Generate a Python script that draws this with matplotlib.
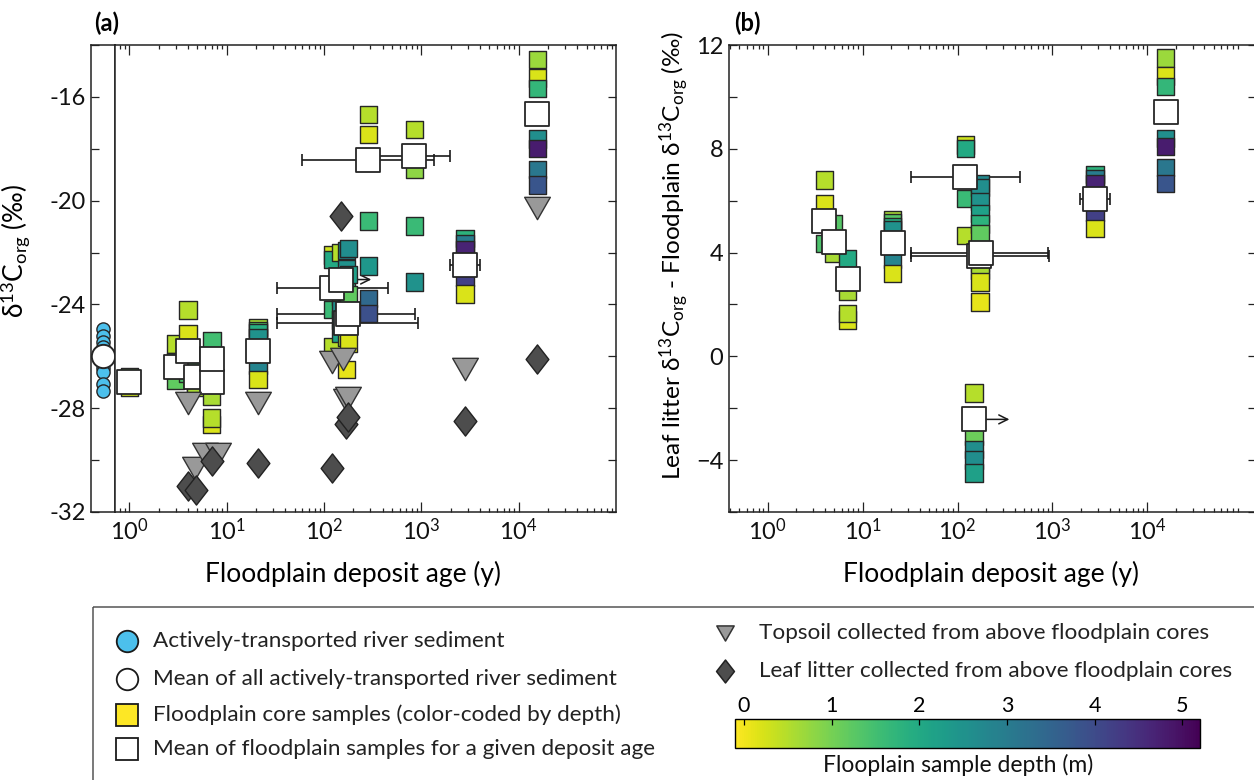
import matplotlib
matplotlib.use("Agg")
import matplotlib.pyplot as plt
import numpy as np
from matplotlib.path import Path
from matplotlib.colors import Normalize
from matplotlib.patches import Rectangle
import matplotlib.ticker as mticker
import matplotlib.cm as cm

plt.rcParams['font.family'] = ['Lato', 'DejaVu Sans']
plt.rcParams['mathtext.fontset'] = 'custom'
plt.rcParams['mathtext.rm'] = 'Lato'
plt.rcParams['mathtext.it'] = 'Lato:italic'
plt.rcParams['mathtext.bf'] = 'Lato:bold'

# ---------------- data: panel (a) ----------------
river_d13c = [-24.95, -25.2, -25.45, -25.65, -25.9, -26.2, -26.45, -26.6, -27.05, -27.35]
river_mean = -26.0

core_a_age = [1.0, 1.0,
              3.0, 3.0, 3.0,
              4.0, 4.0, 4.0,
              4.8, 4.8, 4.8,
              7.0, 7.0, 7.0, 7.0,
              7.1, 7.1,
              21, 21, 21, 21, 21, 21,
              122, 122, 122, 122,
              148, 148, 148, 148, 148,
              170, 170, 170, 170, 170,
              178, 178, 178, 178, 178,
              285, 285, 285, 285, 285, 285,
              850, 850, 850, 850,
              2800, 2800, 2800, 2800, 2800,
              15500, 15500, 15500, 15500, 15500, 15500, 15500]
core_a_d13c = [-26.8, -27.2,
               -25.52, -26.2, -26.94,
               -24.21, -25.14, -26.65,
               -26.06, -27.1, -27.19,
               -26.26, -27.54, -28.63, -28.38,
               -25.39, -26.5,
               -24.9, -25.0, -25.1, -25.27, -26.36, -26.9,
               -22.1, -22.27, -24.2, -25.64,
               -22.0, -23.7, -24.2, -24.6, -25.1,
               -21.93, -22.64, -23.5, -25.28, -26.5,
               -21.85, -22.85, -23.61, -24.75, -25.48,
               -16.67, -17.44, -20.79, -22.52, -23.78, -24.36,
               -17.25, -18.8, -20.98, -23.14,
               -21.47, -21.66, -21.88, -22.95, -23.6,
               -14.56, -15.27, -15.68, -17.63, -18.0, -18.8, -19.4]
core_a_depth = [1.1, 0.3,
                0.5, 1.9, 1.2,
                0.5, 0.2, 1.4,
                1.3, 1.9, 0.6,
                2.0, 0.6, 0.2, 0.5,
                1.5, 1.9,
                0.6, 1.3, 1.9, 2.5, 2.8, 0.2,
                0.3, 2.0, 1.6, 0.5,
                0.5, 1.1, 2.6, 2.6, 2.2,
                2.7, 2.5, 1.8, 0.6, 0.1,
                2.6, 2.2, 1.2, 0.5, 0.2,
                0.5, 0.2, 1.6, 2.4, 3.4, 3.9,
                0.5, 0.8, 1.6, 2.5,
                1.8, 3.0, 4.7, 4.2, 0.2,
                0.7, 0.2, 1.7, 2.6, 4.8, 3.1, 3.8]

mean_a_age = [1.0, 3.0, 4.0, 4.8, 7.0, 7.1, 21, 122, 148, 170, 178, 285, 850, 2800, 15500]
mean_a_d13c = [-26.98, -26.4, -25.78, -26.8, -27.0, -26.1, -25.78, -23.37, -23.04,
               -24.73, -24.35, -18.42, -18.28, -22.47, -16.67]
mean_a_age_lo = [np.nan, np.nan, np.nan, np.nan, np.nan, np.nan, np.nan, 33, np.nan,
                 33, 33, 60, 300, 1950, np.nan]
mean_a_age_hi = [np.nan, np.nan, np.nan, np.nan, np.nan, np.nan, np.nan, 453, np.nan,
                 920, 870, 1334, 1950, 3980, np.nan]
arrow_a_age, arrow_a_d13c, arrow_a_to = 148, -23.04, 306

topsoil_a_age = [4.0, 4.7, 6.0, 8.1, 21, 122, 157, 170, 178, 2800, 15500]
topsoil_a_d13c = [-27.8, -30.3, -29.75, -29.75, -27.8, -26.2, -26.1, -27.7, -27.6, -26.5, -20.27]

litter_a_age = [4.0, 4.8, 7.0, 21, 122, 148, 170, 178, 2800, 15500]
litter_a_d13c = [-30.99, -31.16, -30.03, -30.12, -30.29, -20.6, -28.6, -28.35, -28.5, -26.1]

# ---------------- data: panel (b) ----------------
core_b_age = [3.94, 3.94, 3.94,
              4.94, 4.94,
              6.93, 6.93, 6.93, 6.93,
              20.7, 20.7, 20.7, 20.7, 20.7, 20.7,
              121, 121, 121, 121,
              149, 149, 149, 149, 149,
              172, 172, 172, 172, 172, 172, 172, 172, 172, 172,
              2820, 2820, 2820, 2820, 2820,
              15600, 15600, 15600, 15600, 15600, 15600, 15600]
core_b_diff = [6.8, 5.87, 4.35,
               5.1, 3.97,
               3.77, 2.49, 1.4, 1.65,
               5.25, 5.15, 5.0, 4.9, 3.74, 3.2,
               8.15, 8.02, 6.09, 4.65,
               -1.41, -3.1, -3.6, -4.0, -4.5,
               6.67, 6.5, 5.96, 5.5, 5.1, 4.74, 3.6, 3.32, 2.87, 2.1,
               7.0, 6.85, 6.64, 5.57, 4.93,
               11.5, 10.8, 10.4, 8.4, 8.08, 7.27, 6.67]
core_b_depth = [0.5, 0.2, 1.4,
                1.3, 0.6,
                2.0, 0.6, 0.2, 0.5,
                0.6, 1.3, 1.9, 2.5, 2.8, 0.2,
                0.3, 2.0, 1.6, 0.5,
                0.5, 1.1, 2.6, 2.6, 2.2,
                2.7, 2.6, 2.5, 2.2, 1.8, 1.2, 0.5, 0.6, 0.2, 0.1,
                1.8, 3.0, 4.7, 4.2, 0.2,
                0.7, 0.2, 1.7, 2.6, 4.8, 3.1, 3.8]

mean_b_age = [3.94, 4.94, 6.93, 20.7, 121, 149, 170, 175, 2820, 15600]
mean_b_diff = [5.23, 4.39, 3.0, 4.35, 6.92, -2.43, 3.86, 3.99, 6.05, 9.4]
mean_b_age_lo = [np.nan, np.nan, np.nan, np.nan, 32.6, np.nan, 32.4, 32.4, 1960, np.nan]
mean_b_age_hi = [np.nan, np.nan, np.nan, np.nan, 456, np.nan, 930, 895, 4055, np.nan]
arrow_b_age, arrow_b_diff, arrow_b_to = 149, -2.43, 352

depth_ticks = [0, 1, 2, 3, 4, 5]

# ---------------- styling ----------------
W, H = 1254, 780
fig = plt.figure(figsize=(W / 100, H / 100), dpi=100)

def px_axes(x0, y0, x1, y1, **kw):
    return fig.add_axes([x0 / W, 1 - y1 / H, (x1 - x0) / W, (y1 - y0) / H], **kw)

cmap = plt.get_cmap('viridis_r')
norm = Normalize(vmin=-0.1, vmax=5.2)
EDGE = '#262626'
TICK_FS = 17
LABEL_FS = 19

tri_marker = Path([(-1, 0.87), (1, 0.87), (0, -0.87), (-1, 0.87)],
                  [Path.MOVETO, Path.LINETO, Path.LINETO, Path.CLOSEPOLY])
dia_marker = Path([(0, 1), (0.78, 0), (0, -1), (-0.78, 0), (0, 1)],
                  [Path.MOVETO, Path.LINETO, Path.LINETO, Path.LINETO, Path.CLOSEPOLY])

SQ = 12.5     # sample square size (pt)
MSQ = 16.8    # mean square size (pt)
TRI = 18.5
DIA = 21.0


def style_axis(ax):
    for s in ax.spines.values():
        s.set_linewidth(1.1)
        s.set_color('#222222')
    ax.tick_params(which='both', direction='in', color='#222222', width=0.9,
                   labelsize=TICK_FS, pad=4, labelcolor='#111111')
    ax.tick_params(which='major', length=6)
    ax.tick_params(which='minor', length=3)


def draw_panel(ax, c_age, c_val, c_dep, m_age, m_val, m_lo, m_hi, arrow):
    m_age_a = np.array(m_age, float)
    m_val_a = np.array(m_val, float)
    lo = np.array(m_lo, float)
    hi = np.array(m_hi, float)
    ok = ~np.isnan(lo)
    ax.errorbar(m_age_a[ok], m_val_a[ok],
                xerr=[m_age_a[ok] - lo[ok], hi[ok] - m_age_a[ok]],
                fmt='none', ecolor='#1a1a1a', elinewidth=1.2, capsize=4.5,
                capthick=1.2, zorder=2)
    a_age, a_val, a_to = arrow
    ax.annotate('', xy=(a_to, a_val), xytext=(a_age, a_val),
                arrowprops=dict(arrowstyle='->', color='#1a1a1a', lw=1.1,
                                mutation_scale=16, shrinkA=0, shrinkB=0),
                zorder=2)
    ax.scatter(c_age, c_val, c=c_dep, cmap=cmap, norm=norm, marker='s',
               s=SQ ** 2, edgecolors=EDGE, linewidths=1.0, zorder=3)
    ax.scatter(m_age, m_val, marker='s', s=MSQ ** 2, facecolors='white',
               edgecolors=EDGE, linewidths=1.3, zorder=4)


# ---------------- panel (a) ----------------
ax_r = px_axes(91, 45, 115, 512)
ax_a = px_axes(115, 45, 616, 512)

for ax in (ax_r, ax_a):
    style_axis(ax)
    ax.set_ylim(-32, -14)

ax_r.set_xlim(0, 1)
ax_r.set_xticks([])
ax_r.set_yticks([-32, -28, -24, -20, -16])
ax_r.set_yticklabels(['-32', '-28', '-24', '-20', '-16'])
ax_r.yaxis.set_minor_locator(mticker.FixedLocator([-30, -26, -22, -18, -14]))
ax_r.tick_params(which='minor', length=6)
ax_r.tick_params(axis='y', which='both', right=False)
ax_r.scatter(np.full(len(river_d13c), 0.5), river_d13c, s=9.5 ** 2,
             facecolors='#4cc0ec', edgecolors=EDGE, linewidths=1.0, zorder=3)
ax_r.scatter([0.5], [river_mean], s=16.8 ** 2, facecolors='white',
             edgecolors=EDGE, linewidths=1.4, zorder=4, clip_on=False)
ax_r.set_ylabel(r'δ$^{\mathrm{13}}$C$_{\mathrm{org}}$ (‰)', fontsize=LABEL_FS)
ax_r.yaxis.set_label_coords(-2.45, 0.56)

ax_a.set_xscale('log')
ax_a.set_xlim(0.713, 1e5)
ax_a.set_xticks([1, 10, 100, 1e3, 1e4])
ax_a.xaxis.set_minor_locator(mticker.LogLocator(base=10, subs=np.arange(2, 10), numticks=30))
ax_a.xaxis.set_minor_formatter(mticker.NullFormatter())
ax_a.tick_params(axis='x', which='both', top=True, bottom=True)
ax_a.set_yticks([-32, -28, -24, -20, -16])
ax_a.yaxis.set_minor_locator(mticker.FixedLocator([-30, -26, -22, -18, -14]))
ax_a.tick_params(axis='y', which='both', left=False, right=True, labelleft=False)
ax_a.tick_params(axis='y', which='minor', length=6)
ax_a.tick_params(axis='x', which='major', length=7)

draw_panel(ax_a, core_a_age, core_a_d13c, core_a_depth, mean_a_age, mean_a_d13c,
           mean_a_age_lo, mean_a_age_hi, (arrow_a_age, arrow_a_d13c, arrow_a_to))
ax_a.scatter(topsoil_a_age, topsoil_a_d13c, marker=tri_marker, s=TRI ** 2,
             facecolors='#999999', edgecolors='#333333', linewidths=1.0, zorder=5)
ax_a.scatter(litter_a_age, litter_a_d13c, marker=dia_marker, s=DIA ** 2,
             facecolors='#4d4d4d', edgecolors='#222222', linewidths=1.0, zorder=6)
ax_a.set_xlabel('Floodplain deposit age (y)', fontsize=LABEL_FS)
ax_a.xaxis.set_label_coords(0.476, -0.105)
fig.text(94 / W, 1 - 23 / H, '(a)', fontsize=17, fontweight='bold', va='center', ha='left')

# ---------------- panel (b) ----------------
ax_b = px_axes(729, 45, 1256, 512)
style_axis(ax_b)
ax_b.set_xscale('log')
ax_b.set_xlim(0.39, 1.4e5)
ax_b.set_ylim(-6, 12)
ax_b.set_xticks([1, 10, 100, 1e3, 1e4])
ax_b.xaxis.set_minor_locator(mticker.LogLocator(base=10, subs=np.arange(2, 10), numticks=30))
ax_b.xaxis.set_minor_formatter(mticker.NullFormatter())
ax_b.set_yticks([-4, 0, 4, 8, 12])
ax_b.yaxis.set_minor_locator(mticker.FixedLocator([-6, -2, 2, 6, 10]))
ax_b.tick_params(axis='x', which='both', top=True, bottom=True)
ax_b.tick_params(axis='y', which='both', left=True, right=True)
ax_b.tick_params(axis='y', which='minor', length=6)
ax_b.tick_params(axis='x', which='major', length=7)

draw_panel(ax_b, core_b_age, core_b_diff, core_b_depth, mean_b_age, mean_b_diff,
           mean_b_age_lo, mean_b_age_hi, (arrow_b_age, arrow_b_diff, arrow_b_to))
ax_b.set_xlabel('Floodplain deposit age (y)', fontsize=LABEL_FS)
ax_b.xaxis.set_label_coords(0.497, -0.105)
ax_b.set_ylabel(r'Leaf litter δ$^{\mathrm{13}}$C$_{\mathrm{org}}$ - Floodplain δ$^{\mathrm{13}}$C$_{\mathrm{org}}$ (‰)',
                fontsize=17.6)
ax_b.yaxis.set_label_coords(-0.072, 0.55)
fig.text(734 / W, 1 - 23 / H, '(b)', fontsize=17, fontweight='bold', va='center', ha='left')

# ---------------- legend box ----------------
ax_l = fig.add_axes([0, 0, 1, 1], zorder=-1)
ax_l.set_xlim(0, W)
ax_l.set_ylim(H, 0)
ax_l.axis('off')
ax_l.add_patch(Rectangle((93, 607), 1200, 220, fill=False, edgecolor='#555555', lw=1.1))

LEG_FS = 16.2
leg_left = [
    ('o', '#4cc0ec', 'Actively-transported river sediment', 641),
    ('o', 'white', 'Mean of all actively-transported river sediment', 679),
    ('s', '#fde725', 'Floodplain core samples (color-coded by depth)', 715),
    ('s', 'white', 'Mean of floodplain samples for a given deposit age', 749),
]
for mk, fc, txt, yy in leg_left:
    ax_l.plot([127], [yy], marker=mk, ms=15.5, mfc=fc, mec='#1a1a1a', mew=1.3, ls='none')
    ax_l.text(153, yy, txt, fontsize=LEG_FS, va='center', ha='left', color='#222222')

ax_l.plot([725], [633], marker=tri_marker, ms=12.5, mfc='#999999', mec='#333333', mew=1.1, ls='none')
ax_l.text(759, 633, 'Topsoil collected from above floodplain cores', fontsize=LEG_FS,
          va='center', ha='left', color='#222222')
ax_l.plot([725], [671], marker=dia_marker, ms=16.5, mfc='#4d4d4d', mec='#222222', mew=1.1, ls='none')
ax_l.text(759, 671, 'Leaf litter collected from above floodplain cores', fontsize=LEG_FS,
          va='center', ha='left', color='#222222')

# ---------------- colorbar ----------------
cax = px_axes(735, 719, 1200, 748)
cb = fig.colorbar(cm.ScalarMappable(norm=norm, cmap=cmap), cax=cax, orientation='horizontal')
cb.set_ticks(depth_ticks)
cb.ax.xaxis.set_ticks_position('top')
cb.ax.xaxis.set_label_position('top')
cb.ax.tick_params(direction='in', length=4, width=0.9, labelsize=15.5, pad=2)
cb.outline.set_linewidth(1.0)
fig.text(958 / W, 1 - 765 / H, 'Flooplain sample depth (m)', fontsize=16.5,
         ha='center', va='center', color='#111111')

fig.savefig('out.png', dpi=100)
